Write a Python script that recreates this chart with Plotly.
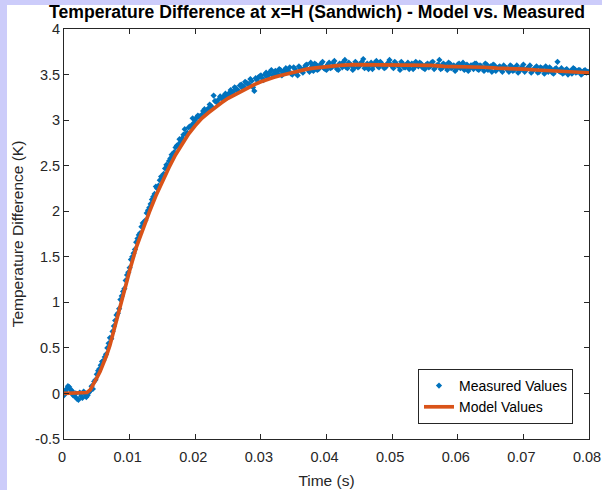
import plotly.graph_objects as go

# Series A on the grid 0, 0.4, 0.8 ... 80 ms; series B on 0.2, 0.6 ... 79.8 ms
meas_dt = 0.0004
meas_vals_a = [
    -0.02, 0.05, 0.07, 0.03, -0.03, -0.06, 0.01, -0.05, -0.01, -0.02,
    0.03, 0.05, 0.15, 0.25, 0.31, 0.36, 0.43, 0.55, 0.60, 0.74,
    0.86, 0.93, 1.07, 1.15, 1.30, 1.38, 1.50, 1.58, 1.70, 1.76,
    1.87, 1.90, 2.01, 2.08, 2.16, 2.27, 2.28, 2.38, 2.41, 2.51,
    2.55, 2.62, 2.65, 2.72, 2.79, 2.80, 2.90, 2.86, 2.93, 3.02,
    3.00, 3.05, 3.02, 3.10, 3.08, 3.13, 3.15, 3.27, 3.20, 3.23,
    3.24, 3.27, 3.25, 3.30, 3.29, 3.36, 3.33, 3.38, 3.35, 3.42,
    3.40, 3.45, 3.36, 3.46, 3.47, 3.49, 3.44, 3.52, 3.50, 3.55,
    3.51, 3.53, 3.56, 3.49, 3.55, 3.53, 3.58, 3.50, 3.56, 3.49,
    3.57, 3.52, 3.60, 3.55, 3.63, 3.54, 3.61, 3.56, 3.62, 3.57,
    3.55, 3.63, 3.58, 3.65, 3.56, 3.62, 3.58, 3.66, 3.57, 3.61,
    3.55, 3.64, 3.58, 3.62, 3.67, 3.59, 3.56, 3.63, 3.60, 3.65,
    3.58, 3.62, 3.57, 3.61, 3.66, 3.59, 3.64, 3.60, 3.55, 3.62,
    3.58, 3.63, 3.60, 3.56, 3.64, 3.59, 3.62, 3.57, 3.61, 3.58,
    3.63, 3.56, 3.60, 3.66, 3.57, 3.61, 3.55, 3.62, 3.58, 3.54,
    3.61, 3.57, 3.63, 3.58, 3.54, 3.60, 3.56, 3.62, 3.55, 3.59,
    3.54, 3.61, 3.57, 3.53, 3.60, 3.56, 3.59, 3.53, 3.58, 3.55,
    3.60, 3.54, 3.58, 3.52, 3.57, 3.61, 3.55, 3.58, 3.52, 3.56,
    3.59, 3.53, 3.57, 3.51, 3.55, 3.58, 3.52, 3.56, 3.64, 3.53,
    3.51, 3.55, 3.50, 3.54, 3.57, 3.52, 3.55, 3.50, 3.54, 3.52,
    3.53,
]
meas_vals_b = [
    0.02, 0.08, 0.04, -0.02, 0.00, -0.07, -0.03, 0.02, -0.04, 0.01,
    0.08, 0.13, 0.21, 0.27, 0.35, 0.40, 0.50, 0.61, 0.68, 0.80,
    0.88, 1.03, 1.12, 1.24, 1.33, 1.47, 1.54, 1.66, 1.74, 1.83,
    1.88, 1.98, 2.04, 2.13, 2.19, 2.25, 2.34, 2.37, 2.47, 2.50,
    2.58, 2.60, 2.70, 2.73, 2.76, 2.84, 2.85, 2.92, 2.94, 2.97,
    3.03, 3.04, 3.06, 3.12, 3.11, 3.17, 3.14, 3.21, 3.19, 3.26,
    3.23, 3.29, 3.27, 3.33, 3.31, 3.35, 3.32, 3.39, 3.37, 3.41,
    3.39, 3.43, 3.32, 3.44, 3.48, 3.46, 3.50, 3.47, 3.53, 3.49,
    3.54, 3.51, 3.55, 3.52, 3.57, 3.54, 3.51, 3.58, 3.52, 3.59,
    3.54, 3.57, 3.61, 3.53, 3.59, 3.62, 3.55, 3.60, 3.64, 3.56,
    3.61, 3.57, 3.63, 3.59, 3.55, 3.61, 3.64, 3.58, 3.63, 3.60,
    3.57, 3.62, 3.59, 3.64, 3.57, 3.62, 3.60, 3.56, 3.63, 3.59,
    3.64, 3.60, 3.58, 3.63, 3.61, 3.57, 3.62, 3.59, 3.64, 3.58,
    3.61, 3.56, 3.62, 3.58, 3.61, 3.63, 3.58, 3.56, 3.62, 3.59,
    3.64, 3.58, 3.61, 3.56, 3.62, 3.59, 3.63, 3.57, 3.60, 3.56,
    3.62, 3.59, 3.55, 3.61, 3.57, 3.60, 3.62, 3.56, 3.60, 3.57,
    3.62, 3.55, 3.59, 3.61, 3.54, 3.58, 3.55, 3.60, 3.57, 3.53,
    3.59, 3.55, 3.60, 3.54, 3.58, 3.53, 3.57, 3.60, 3.54, 3.57,
    3.52, 3.58, 3.55, 3.59, 3.53, 3.56, 3.51, 3.57, 3.54, 3.57,
    3.52, 3.56, 3.53, 3.51, 3.56, 3.53, 3.55, 3.51, 3.55, 3.53,
]
meas_time = ([round(i * meas_dt, 5) for i in range(len(meas_vals_a))]
             + [round(0.0002 + i * meas_dt, 5) for i in range(len(meas_vals_b))])
meas_vals = meas_vals_a + meas_vals_b

# Model curve (time in s, value in K)
model_time = [0.0, 0.001, 0.002, 0.003, 0.0035, 0.004, 0.0045, 0.005, 0.0055, 0.006,
              0.0065, 0.007, 0.0075, 0.008, 0.0085, 0.009, 0.0095, 0.010, 0.0105, 0.011,
              0.0115, 0.012, 0.013, 0.014, 0.015, 0.016, 0.017, 0.018, 0.019, 0.020,
              0.021, 0.022, 0.023, 0.024, 0.025, 0.026, 0.027, 0.028, 0.029, 0.030,
              0.031, 0.032, 0.033, 0.034, 0.035, 0.036, 0.037, 0.038, 0.039, 0.040,
              0.042, 0.044, 0.046, 0.048, 0.050, 0.052, 0.054, 0.056, 0.058, 0.060,
              0.062, 0.064, 0.066, 0.068, 0.070, 0.072, 0.074, 0.076, 0.078, 0.080]
model_vals = [0.0, 0.0, 0.0, 0.0, 0.01, 0.04, 0.10, 0.17, 0.24, 0.32,
              0.42, 0.53, 0.66, 0.79, 0.93, 1.07, 1.21, 1.35, 1.48, 1.60,
              1.70, 1.80, 1.99, 2.17, 2.33, 2.48, 2.62, 2.74, 2.85, 2.94,
              3.02, 3.08, 3.14, 3.19, 3.24, 3.28, 3.32, 3.35, 3.39, 3.42,
              3.45, 3.47, 3.49, 3.51, 3.53, 3.54, 3.56, 3.57, 3.58, 3.59,
              3.60, 3.61, 3.61, 3.61, 3.61, 3.61, 3.60, 3.60, 3.59, 3.59,
              3.58, 3.58, 3.57, 3.57, 3.56, 3.55, 3.54, 3.54, 3.53, 3.52]

x_ticks = [0, 0.01, 0.02, 0.03, 0.04, 0.05, 0.06, 0.07, 0.08]
x_tick_labels = ["0", "0.01", "0.02", "0.03", "0.04", "0.05", "0.06", "0.07", "0.08"]
y_ticks = [-0.5, 0, 0.5, 1, 1.5, 2, 2.5, 3, 3.5, 4]
y_tick_labels = ["-0.5", "0", "0.5", "1", "1.5", "2", "2.5", "3", "3.5", "4"]

AX = "#262626"
FONT = "Liberation Sans, Arial, Helvetica, sans-serif"
W, H = 602, 490
ML, MR, MT, MB = 64, 13, 29, 51
PW, PH = W - ML - MR, H - MT - MB

fig = go.Figure()
fig.add_trace(go.Scatter(
    x=meas_time, y=meas_vals, mode="markers", name="Measured Values",
    marker=dict(symbol="diamond", size=4.8, color="#0072BD", line=dict(width=0)),
))
fig.add_trace(go.Scatter(
    x=model_time, y=model_vals, mode="lines", name="Model Values",
    line=dict(color="#D95319", width=3.7),
))

axis_common = dict(
    automargin=False,
    showgrid=False, zeroline=False, showline=True, linecolor=AX, linewidth=1,
    mirror="ticks", ticks="inside", ticklen=5, tickcolor=AX, tickwidth=1,
    tickfont=dict(family=FONT, size=14.5, color=AX), ticklabeloverflow="allow",
)
fig.update_xaxes(range=[0, 0.08], tickvals=x_ticks, ticktext=x_tick_labels,
                 ticklabelstandoff=5, ticklabelshift=-2,
                 title=dict(text="Time (s)", font=dict(family=FONT, size=15.5, color=AX), standoff=10),
                 **axis_common)
fig.update_yaxes(range=[-0.5, 4], tickvals=y_ticks, ticktext=y_tick_labels,
                 title=dict(text="Temperature Difference (K)", font=dict(family=FONT, size=15.5, color=AX), standoff=7),
                 **axis_common)

fig.update_layout(
    width=W, height=H, autosize=False,
    margin=dict(l=ML, r=MR, t=MT, b=MB),
    paper_bgcolor="white", plot_bgcolor="white",
    font=dict(family=FONT, color=AX),
    title=dict(text="<b>Temperature Difference at x=H (Sandwich) - Model vs. Measured</b>",
               x=(317 - ML) / PW, xref="paper", xanchor="center", y=1 - 12 / H, yanchor="middle",
               font=dict(family=FONT, size=17.6, color="black")),
    legend=dict(x=(573 - ML) / PW, y=(MT + PH - 424) / PH, xanchor="right", yanchor="bottom",
                bgcolor="white", bordercolor=AX, borderwidth=1,
                font=dict(family=FONT, size=14, color="black"),
                tracegroupgap=0, itemsizing="trace"),
    showlegend=True,
)

# lavender window frame on the left and top edges
fig.add_shape(type="rect", xref="paper", yref="paper", x0=-ML / PW, x1=(7 - ML) / PW,
              y0=-MB / PH, y1=(MT + PH) / PH, fillcolor="#CCCCFA", line=dict(width=0), layer="below")
fig.add_shape(type="rect", xref="paper", yref="paper", x0=-ML / PW, x1=(PW + MR) / PW,
              y0=(PH + MT - 5) / PH, y1=(PH + MT) / PH, fillcolor="#CCCCFA", line=dict(width=0), layer="below")

fig.write_html(
    "out.html",
    config={"responsive": False},
    post_script="document.documentElement.style.overflow='hidden';"
                "document.body.style.overflow='hidden';document.body.style.margin='0';",
)
